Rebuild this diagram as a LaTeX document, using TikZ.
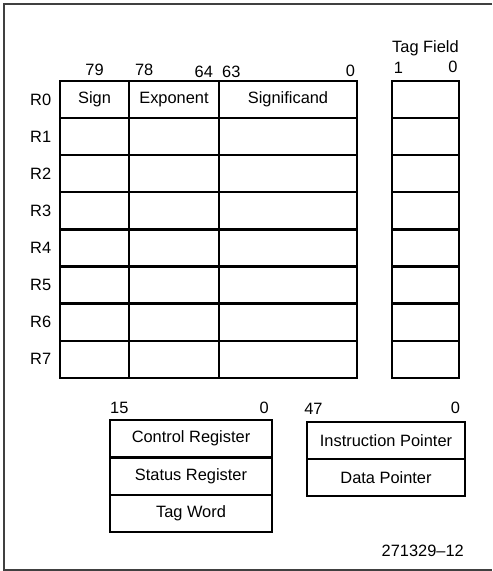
\documentclass[tikz,border=0pt]{standalone}
\usepackage{fontspec}
\setmainfont{Liberation Sans}
\usetikzlibrary{positioning}

\begin{document}
\begin{tikzpicture}[x=0.03cm,y=-0.03cm,font=\fontsize{14}{16}\selectfont,
        node distance=0pt,
        case/.style={draw,line width=2pt,inner sep=0pt,outer sep=0pt,minimum height=1.113cm},
        bit/.style={inner sep=0pt}]
        \useasboundingbox (0,0) rectangle (492,571);
        % Cadre de la figure (coupé à droite)
        \draw[line width=1.4pt,black!75] (492,4) -- (4,4) -- (4,570) -- (492,570);

        % Première ligne R0 : signe, exposant, mantisse et champ d'étiquette
        \node[case,minimum width=2.07cm,anchor=north west] (s0) at (60,81) {Sign};
        \node[case,minimum width=2.70cm,right=of s0] (e0) {Exponent};
        \node[case,minimum width=4.14cm,right=of e0] (m0) {Significand};
        \node[case,minimum width=2.01cm,anchor=north west] (t0) at (392,81) {};

        % Les lignes R1 à R7, chacune sous la précédente
        \foreach \i [count=\j from 0] in {1,...,7} {
            \node[case,minimum width=2.07cm,below=of s\j] (s\i) {};
            \node[case,minimum width=2.70cm,right=of s\i] (e\i) {};
            \node[case,minimum width=4.14cm,right=of e\i] (m\i) {};
            \node[case,minimum width=2.01cm,below=of t\j] (t\i) {};
        }

        % Noms des registres
        \foreach \i in {0,...,7}
            \node[left=4pt of s\i] (r\i) {R\i};

        % Numéros de bits au-dessus des registres
        \node[bit,above=4.5pt of s0] (b79) {79};
        \node[bit,above right=4pt and 5pt of e0.north west] (b78) {78};
        \node[bit,above left=3pt and 5pt of e0.north east] (b64) {64};
        \node[bit,above right=3pt and 2.5pt of m0.north west] (b63) {63};
        \node[bit,above left=3.5pt and 1.5pt of m0.north east] (b0) {0};
        \node[bit,above right=6pt and 1.5pt of t0.north west] (b1) {1};
        \node[bit,above left=6.5pt and 1pt of t0.north east] (bt0) {0};
        \node[bit,above=21.5pt of t0] (tag) {Tag Field};

        % Registres de contrôle, d'état et d'étiquettes (16 bits)
        \node[case,minimum width=4.86cm,minimum height=1.12cm,anchor=north west] (ctrl) at (110,420) {Control Register};
        \node[case,minimum width=4.86cm,minimum height=1.12cm,below=of ctrl] (stat) {Status Register};
        \node[case,minimum width=4.86cm,minimum height=1.12cm,below=of stat] (tagw) {Tag Word};
        \node[bit,above right=5pt and 0pt of ctrl.north west] (b15) {15};
        \node[bit,above left=5pt and 2.5pt of ctrl.north east] (bc0) {0};

        % Pointeurs d'instruction et de données (48 bits)
        \node[case,minimum width=4.74cm,minimum height=1.11cm,anchor=north west] (ip) at (307,422) {Instruction Pointer};
        \node[case,minimum width=4.74cm,minimum height=1.11cm,below=of ip] (dp) {Data Pointer};
        \node[bit,above right=6.5pt and -2.5pt of ip.north west] (b47) {47};
        \node[bit,above left=6.5pt and 4pt of ip.north east] (bp0) {0};

        % Référence de la figure
        \node[bit,anchor=base east] (fig) at (464,556) {271329--12};
\end{tikzpicture}
\end{document}
